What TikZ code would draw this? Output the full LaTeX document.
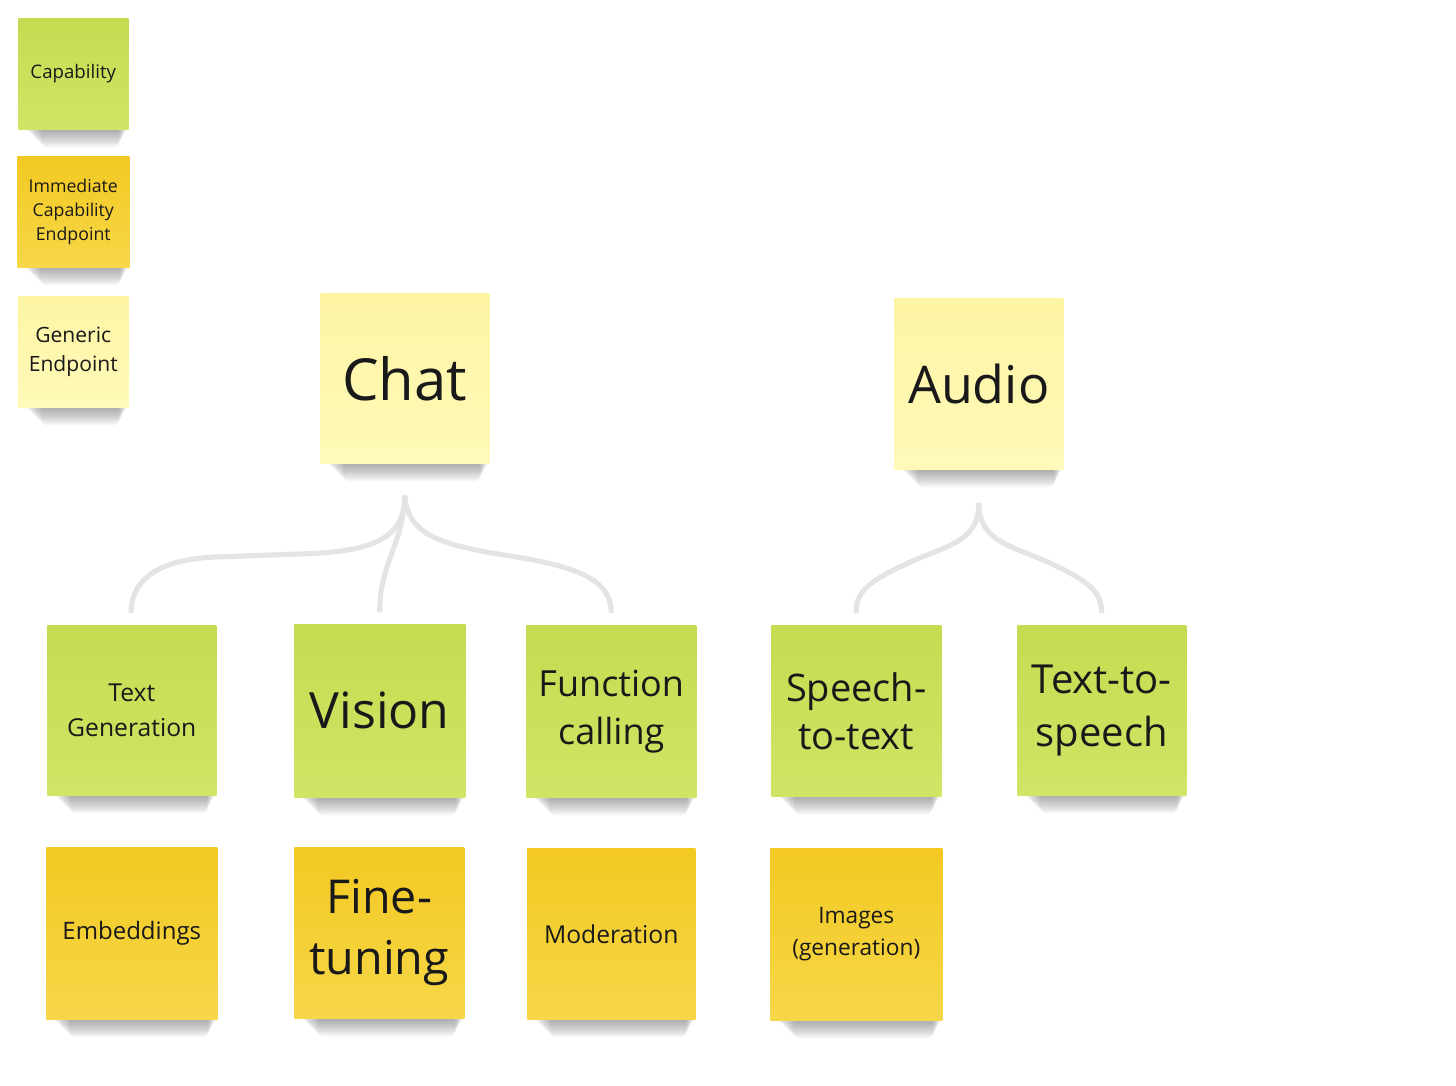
\documentclass[tikz,border=0pt]{standalone}
\usepackage{fontspec}
\setmainfont{Open Sans}
\definecolor{gtop}{RGB}{196,220,80}
\definecolor{gbot}{RGB}{207,229,102}
\definecolor{otop}{RGB}{243,201,34}
\definecolor{obot}{RGB}{246,215,72}
\definecolor{ytop}{RGB}{253,244,163}
\definecolor{ybot}{RGB}{255,250,185}
\definecolor{conn}{RGB}{228,228,228}
\definecolor{ink}{RGB}{25,25,25}
\begin{document}
\begin{tikzpicture}[x=0.75pt,y=-0.75pt,
  note/.style={inner sep=0pt, text=ink, align=center, anchor=north west},
  gnote/.style={note, top color=gtop, bottom color=gbot},
  onote/.style={note, top color=otop, bottom color=obot},
  ynote/.style={note, top color=ytop, bottom color=ybot},
  conline/.style={draw=conn, line width=3.8pt, line cap=butt},
  shadowlayer/.style={fill=black, opacity=0.032, rounded corners=4pt},
]
\useasboundingbox (0,0) rectangle (1456,1085);
\fill[white] (0,0) rectangle (1456,1085);
% helper: \notebox{name}{x1}{y1}{x2}{y2}{style}{font}{text}
\newcommand{\notebox}[8]{%
  \foreach \i in {1,...,11}{%
    \fill[shadowlayer] (#2+6+\i*1.6,#5-2) rectangle (#4-\i*0.8,#5+1+1.6*\i);
  }%
  \node[#6, minimum width={(#4-#2)*0.75pt}, minimum height={(#5-#3)*0.75pt},
        font=#7] (#1) at (#2,#3) {#8};%
}
% legend
\notebox{lcap}{18}{18}{128}{129}{gnote}{\fontsize{14}{18}\selectfont}{Capability}
\notebox{limm}{17}{156}{129}{267}{onote}{\fontsize{13.3}{18}\selectfont}{Immediate\\Capability\\Endpoint}
\notebox{lgen}{18}{296}{128}{407}{ynote}{\fontsize{15.8}{21.5}\selectfont}{Generic\\Endpoint}
% endpoints
\notebox{chat}{320}{293}{489}{463}{ynote}{\fontsize{43.5}{50}\selectfont}{Chat}
\notebox{audio}{894}{298}{1063}{469}{ynote}{\fontsize{39}{48}\selectfont}{Audio}
% capabilities
\notebox{textgen}{47}{625}{216}{795}{gnote}{\fontsize{18.5}{26}\selectfont}{Text\\Generation}
\notebox{vision}{294}{624}{465}{797}{gnote}{\fontsize{37.5}{48}\selectfont}{Vision}
\notebox{func}{526}{625}{696}{797}{gnote}{\fontsize{27}{36}\selectfont}{Function\\calling}
\notebox{stt}{771}{625}{941}{796}{gnote}{\fontsize{28.5}{36}\selectfont}{Speech-\\to-text}
\notebox{tts}{1017}{625}{1186}{795}{gnote}{\fontsize{30}{40}\selectfont}{Text-to-\\speech}
% immediate capability endpoints
\notebox{embed}{46}{847}{217}{1019}{onote}{\fontsize{18}{26}\selectfont}{Embeddings}
\notebox{fine}{294}{847}{464}{1018}{onote}{\fontsize{35}{46}\selectfont}{Fine-\\tuning}
\notebox{moder}{527}{848}{695}{1019}{onote}{\fontsize{18.5}{26}\selectfont}{Moderation}
\notebox{images}{770}{848}{942}{1020}{onote}{\fontsize{17}{24}\selectfont}{Images\\(generation)}
% connector points
\coordinate (chatb) at ([yshift=-24pt]chat.south);
\coordinate (audiob) at ([yshift=-25pt]audio.south);
\coordinate (tgT) at ([xshift=-0.5pt,yshift=9pt]textgen.north);
\coordinate (viT) at ([yshift=9pt]vision.north);
\coordinate (fcT) at ([yshift=9pt]func.north);
\coordinate (stT) at ([yshift=9pt]stt.north);
\coordinate (tsT) at ([yshift=9pt]tts.north);
% connectors (Chat)
\draw[conline] (chatb) .. controls (405,540) and (370,552) .. (300,554)
  -- (215,557) .. controls (150,560) and (131,585) .. (tgT);
\draw[conline] (chatb) .. controls (403,545) and (379,565) .. (viT);
\draw[conline] (chatb) .. controls (408,535) and (440,545) .. (510,556)
  .. controls (590,568) and (611,585) .. (fcT);
% connectors (Audio)
\draw[conline] (audiob) .. controls (979,540) and (950,545) .. (915,560)
  .. controls (862,583) and (856,595) .. (stT);
\draw[conline] (audiob) .. controls (979,540) and (1008,545) .. (1043,560)
  .. controls (1096,583) and (1101,595) .. (tsT);
\end{tikzpicture}
\end{document}
